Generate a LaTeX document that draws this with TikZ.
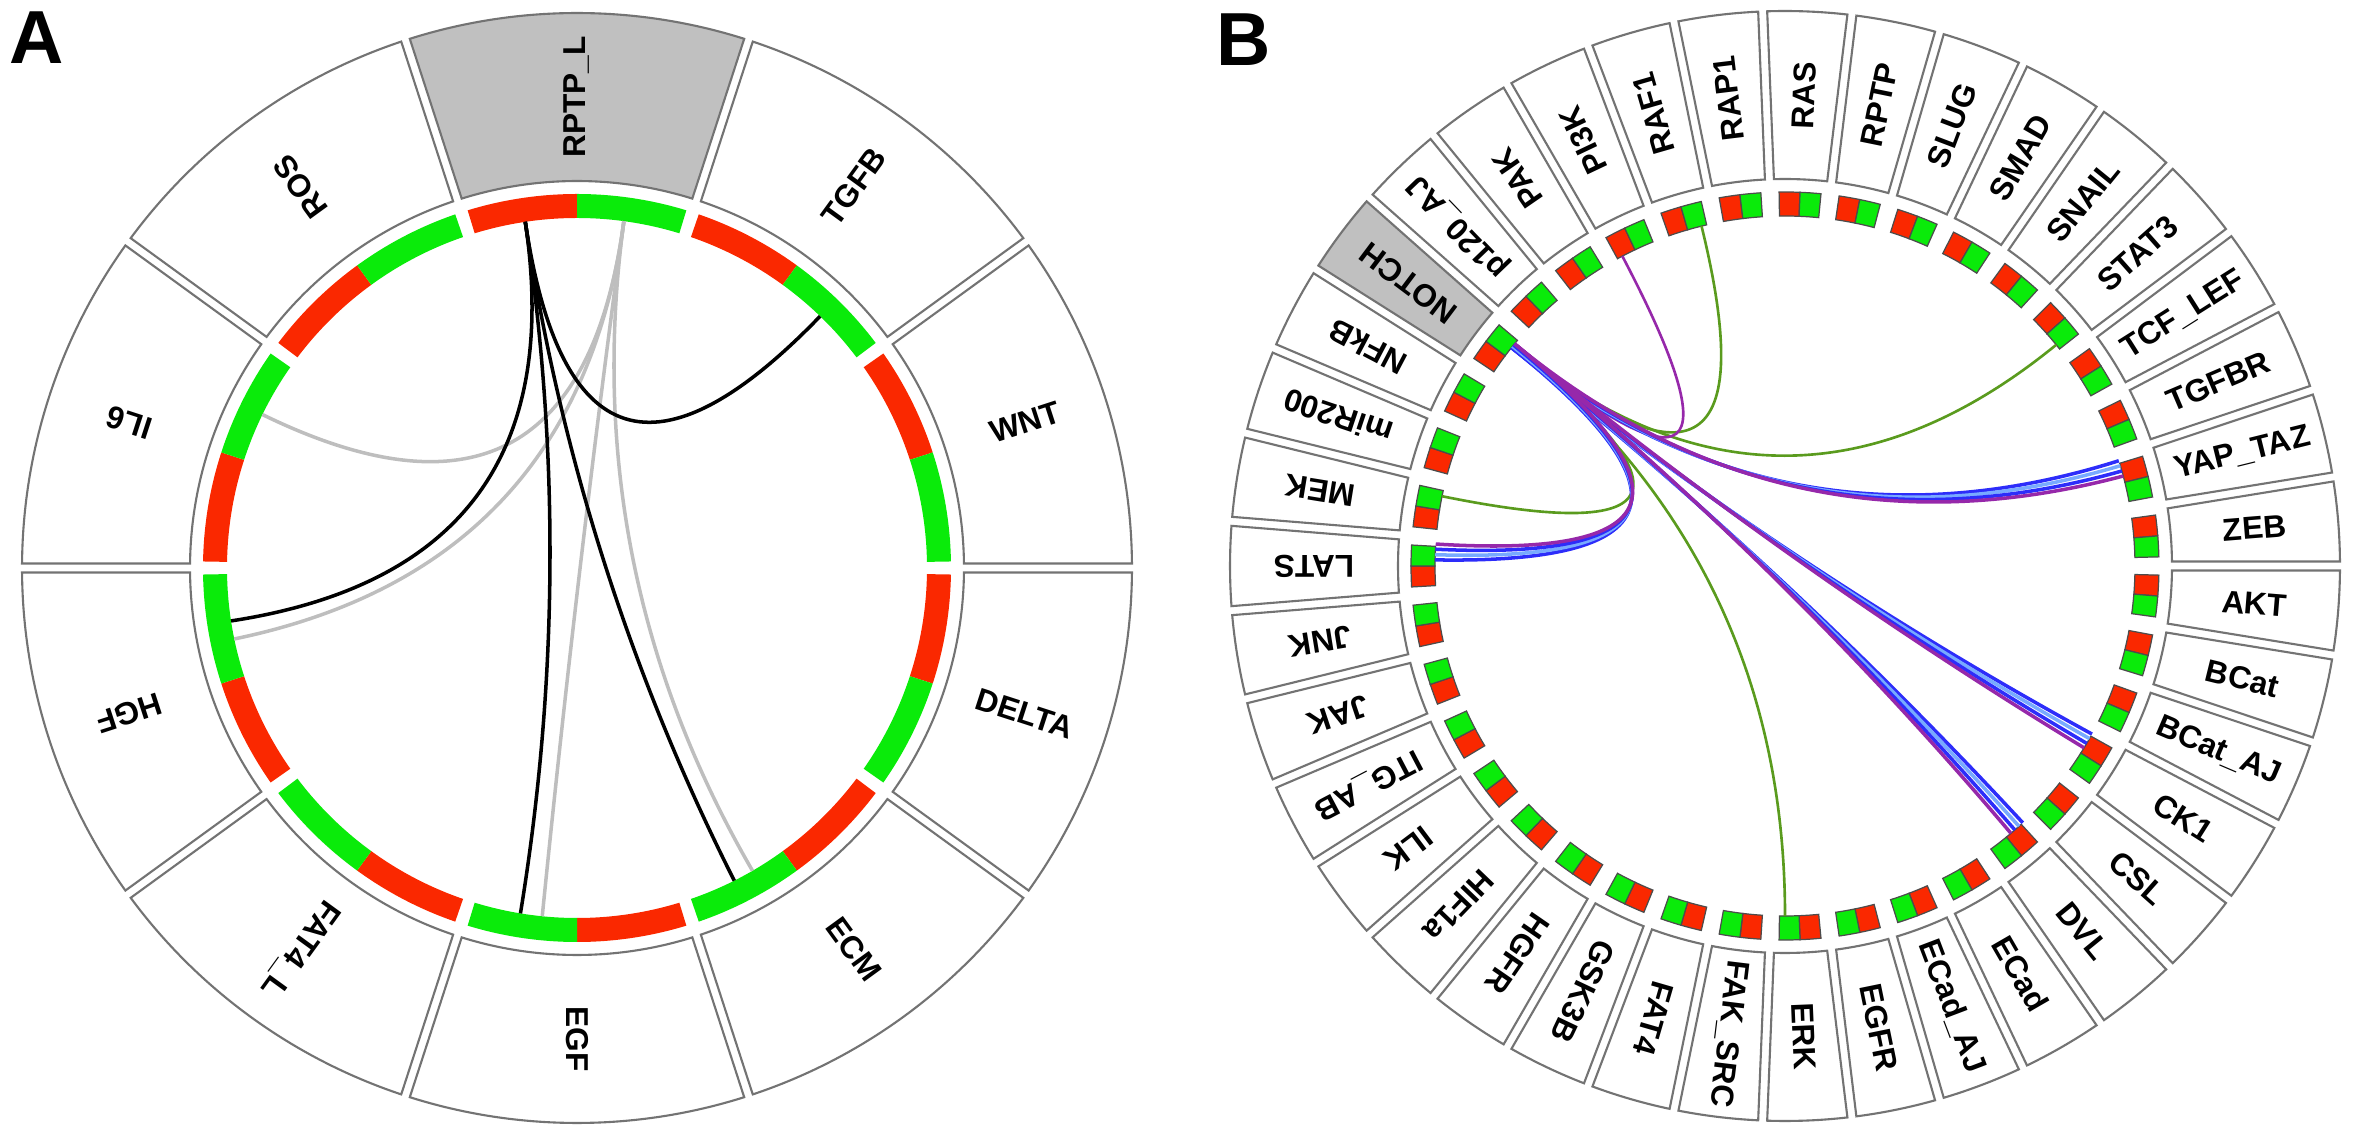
\documentclass[tikz,border=0pt]{standalone}
\usepackage{fontspec}
\setmainfont{Liberation Sans}
\usetikzlibrary{calc}

\definecolor{barred}{RGB}{250,40,0}
\definecolor{bargreen}{RGB}{10,235,10}
\definecolor{keygray}{RGB}{192,192,192}
\definecolor{rimgray}{RGB}{115,115,115}
\definecolor{chordgray}{RGB}{190,190,190}
\definecolor{chordgreen}{RGB}{90,155,30}
\definecolor{chordpurple}{RGB}{150,40,170}
\definecolor{chordblue}{RGB}{45,45,250}
\definecolor{chordsky}{RGB}{120,170,255}

% quadratic link pulled towards the circle centre
\newcommand{\chordlink}[4][]{%
  \draw[#1] (#2) .. controls ($(#2)!0.667!(#4)$) and ($(#3)!0.667!(#4)$) .. (#3);}

\begin{document}
\begin{tikzpicture}[
  labelbox/.style={draw=rimgray,line width=0.6pt},
  segtext/.style={font=\fontsize{9}{10}\selectfont\bfseries,inner sep=0pt},
  panel/.style={font=\fontsize{21.4}{24}\selectfont\bfseries,inner sep=0pt},
  blackchord/.style={line width=1pt,black},
  graychord/.style={line width=1pt,chordgray},
  greenchord/.style={line width=0.75pt,chordgreen},
  purplechord/.style={line width=0.75pt,chordpurple}]
\useasboundingbox (0,0) rectangle (23.55,11.37);
\coordinate (cA) at (5.77,5.69);
\coordinate (cB) at (17.85,5.71);

\node[panel] (tagA) at (0.37,10.99) {A};
\node[panel] (tagB) at (12.44,10.97) {B};

% panel A
\foreach \name [count=\i from 0] in {RPTP\_L,TGFB,WNT,DELTA,ECM,EGF,FAT4\_L,HGF,IL6,ROS}{
  \pgfmathsetmacro\amid{90-36*\i}
  \pgfmathsetmacro\aone{\amid+18}
  \pgfmathsetmacro\atwo{\amid-18}
  \def\boxfill{white}
  \ifnum\i=0 \def\boxfill{keygray}\fi
  \draw[labelbox,fill=\boxfill] ($(cA)+({\aone-0.465}:5.55)$)
    arc[start angle={\aone-0.465},end angle={\atwo+0.465},radius=5.55cm]
    -- ($(cA)+({\atwo+0.666}:3.87)$)
    arc[start angle={\atwo+0.666},end angle={\aone-0.666},radius=3.87cm] -- cycle;
  \fill[barred] ($(cA)+({\aone-1}:3.74)$)
    arc[start angle={\aone-1},end angle=\amid,radius=3.74cm]
    -- ($(cA)+(\amid:3.50)$)
    arc[start angle=\amid,end angle={\aone-1},radius=3.50cm] -- cycle;
  \fill[bargreen] ($(cA)+(\amid:3.74)$)
    arc[start angle=\amid,end angle={\atwo+1},radius=3.74cm]
    -- ($(cA)+({\atwo+1}:3.50)$)
    arc[start angle={\atwo+1},end angle=\amid,radius=3.50cm] -- cycle;
  \node[segtext,rotate=\amid] (segA\i) at ($(cA)+(\amid:4.71)$) {\name};
}

\coordinate (AsrcR) at ($(cA)+(98.5:3.50)$);
\coordinate (AsrcG) at ($(cA)+(82.3:3.50)$);
\coordinate (Atgfb) at ($(cA)+(46:3.50)$);
\coordinate (Ail6) at ($(cA)+(154:3.50)$);
\coordinate (AhgfK) at ($(cA)+(-171.3:3.50)$);
\coordinate (AhgfL) at ($(cA)+(-168.3:3.50)$);
\coordinate (AegfK) at ($(cA)+(-99.3:3.50)$);
\coordinate (AegfL) at ($(cA)+(-95.7:3.50)$);
\coordinate (AecmK) at ($(cA)+(-63.3:3.50)$);
\coordinate (AecmL) at ($(cA)+(-59.9:3.50)$);

\chordlink[graychord]{AsrcG}{Ail6}{cA}
\chordlink[graychord]{AsrcG}{AhgfL}{cA}
\chordlink[graychord]{AsrcG}{AegfL}{cA}
\chordlink[graychord]{AsrcG}{AecmL}{cA}
\chordlink[blackchord]{AsrcR}{Atgfb}{cA}
\chordlink[blackchord]{AsrcR}{AhgfK}{cA}
\chordlink[blackchord]{AsrcR}{AegfK}{cA}
\chordlink[blackchord]{AsrcR}{AecmK}{cA}

% panel B
\foreach \name [count=\k] in {AKT,BCat,BCat\_AJ,CK1,CSL,DVL,ECad,ECad\_AJ,EGFR,ERK,
    FAK\_SRC,FAT4,GSK3B,HGFR,HIF1a,ILK,ITG\_AB,JAK,JNK,LATS,MEK,miR200,NFkB,NOTCH,
    p120\_AJ,PAK,PI3K,RAF1,RAP1,RAS,RPTP,SLUG,SMAD,SNAIL,STAT3,TCF\_LEF,TGFBR,YAP\_TAZ,ZEB}{
  \pgfmathsetmacro\aone{-(\k-1)*360/39}
  \pgfmathsetmacro\atwo{-\k*360/39}
  \pgfmathsetmacro\amid{-(\k-0.5)*360/39}
  \def\boxfill{white}
  \ifnum\k=24 \def\boxfill{keygray}\fi
  \draw[labelbox,fill=\boxfill] ($(cB)+({\aone-0.465}:5.55)$)
    arc[start angle={\aone-0.465},end angle={\atwo+0.465},radius=5.55cm]
    -- ($(cB)+({\atwo+0.666}:3.87)$)
    arc[start angle={\atwo+0.666},end angle={\aone-0.666},radius=3.87cm] -- cycle;
  \filldraw[fill=barred,draw=black!70,line width=0.35pt] ($(cB)+({\aone-1.4}:3.74)$)
    arc[start angle={\aone-1.4},end angle=\amid,radius=3.74cm]
    -- ($(cB)+(\amid:3.50)$)
    arc[start angle=\amid,end angle={\aone-1.4},radius=3.50cm] -- cycle;
  \filldraw[fill=bargreen,draw=black!70,line width=0.35pt] ($(cB)+(\amid:3.74)$)
    arc[start angle=\amid,end angle={\atwo+1.4},radius=3.74cm]
    -- ($(cB)+({\atwo+1.4}:3.50)$)
    arc[start angle={\atwo+1.4},end angle=\amid,radius=3.50cm] -- cycle;
  \node[segtext,rotate=\amid] (segB\k) at ($(cB)+(\amid:4.71)$) {\name};
}

\coordinate (Bnotch) at ($(cB)+(141:3.50)$);
\coordinate (Bpi3k) at ($(cB)+(117.7:3.50)$);
\coordinate (Braf) at ($(cB)+(103.8:3.50)$);
\coordinate (Bstat) at ($(cB)+(39.2:3.50)$);
\coordinate (Berk) at ($(cB)+(-90:3.50)$);
\coordinate (Bmek) at ($(cB)+(168.5:3.50)$);

\chordlink[greenchord]{Bnotch}{Braf}{cB}
\chordlink[greenchord]{Bnotch}{Bstat}{cB}
\chordlink[greenchord]{Bnotch}{Berk}{cB}
\chordlink[greenchord]{Bnotch}{Bmek}{cB}
\chordlink[purplechord]{Bnotch}{Bpi3k}{cB}

% bundles to YAP_TAZ, CK1, DVL and LATS
\foreach \tgt in {16.2,-30,-48.5,177.7}{
  \foreach \off/\col in {1.3/chordblue,0.45/chordsky,-0.45/chordblue,-1.3/chordpurple}{
    \coordinate (Bfrom) at ($(cB)+({141+0.3*\off}:3.50)$);
    \coordinate (Bto) at ($(cB)+({\tgt+\off}:3.50)$);
    \chordlink[line width=1pt,\col]{Bfrom}{Bto}{cB}
  }
}
\end{tikzpicture}
\end{document}
